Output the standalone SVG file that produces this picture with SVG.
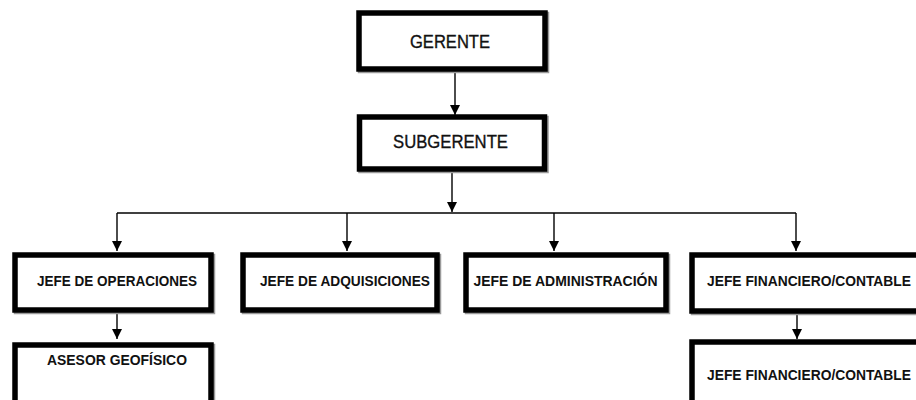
<svg xmlns="http://www.w3.org/2000/svg" width="916" height="400" viewBox="0 0 916 400">
<defs>
<marker id="arr" markerUnits="userSpaceOnUse" markerWidth="10" markerHeight="12" refX="10" refY="5" orient="auto">
<path d="M0,0 L10,5 L0,10 Z" fill="#000"/>
</marker>
<style>
.box{fill:#fff;stroke:#000;stroke-width:5.5}
.sh{fill:none;stroke:#9a9a9a;stroke-width:5.5}
.t{font-family:"Liberation Sans",Arial,sans-serif;fill:#111}
.big{font-size:18px;stroke:#111;stroke-width:0.35}
.sm{font-size:15px;font-weight:bold}
.fin{font-size:14px}
.con{fill:none;stroke:#000;stroke-width:1.4}
</style>
</defs>
<rect width="916" height="400" fill="#fff"/>
<g id="connectors">
<line class="con" x1="455" y1="72" x2="455" y2="115" marker-end="url(#arr)"/>
<line class="con" x1="452" y1="172" x2="452" y2="212" marker-end="url(#arr)"/>
<line class="con" x1="117" y1="213" x2="796" y2="213"/>
<line class="con" x1="117" y1="213" x2="117" y2="251" marker-end="url(#arr)"/>
<line class="con" x1="347" y1="213" x2="347" y2="251" marker-end="url(#arr)"/>
<line class="con" x1="554" y1="213" x2="554" y2="251" marker-end="url(#arr)"/>
<line class="con" x1="796" y1="213" x2="796" y2="251" marker-end="url(#arr)"/>
<line class="con" x1="117" y1="313" x2="117" y2="339" marker-end="url(#arr)"/>
<line class="con" x1="797" y1="314" x2="797" y2="339" marker-end="url(#arr)"/>
</g>
<g id="gerente">
<rect class="sh" x="360.5" y="14.5" width="186" height="56"/>
<rect class="box" x="359" y="13" width="186" height="56"/>
<text class="t big" x="410" y="48" textLength="80" lengthAdjust="spacingAndGlyphs">GERENTE</text>
</g>
<g id="subgerente">
<rect class="sh" x="361" y="118.5" width="185" height="52"/>
<rect class="box" x="359.5" y="117" width="185" height="52"/>
<text class="t big" x="393" y="148" textLength="115" lengthAdjust="spacingAndGlyphs">SUBGERENTE</text>
</g>
<g id="jefe-operaciones">
<rect class="sh" x="16.5" y="256.5" width="196" height="55"/>
<rect class="box" x="15" y="255" width="196" height="55"/>
<text class="t sm" x="37" y="286" textLength="160" lengthAdjust="spacingAndGlyphs">JEFE DE OPERACIONES</text>
</g>
<g id="jefe-adquisiciones">
<rect class="sh" x="244.5" y="256.5" width="194" height="55"/>
<rect class="box" x="243" y="255" width="194" height="55"/>
<text class="t sm" x="260" y="286" textLength="170" lengthAdjust="spacingAndGlyphs">JEFE DE ADQUISICIONES</text>
</g>
<g id="jefe-administracion">
<rect class="sh" x="467.5" y="256.5" width="200" height="55"/>
<rect class="box" x="466" y="255" width="200" height="55"/>
<text class="t sm" x="473.5" y="286" textLength="184" lengthAdjust="spacingAndGlyphs">JEFE DE ADMINISTRACIÓN</text>
</g>
<g id="jefe-financiero">
<rect class="sh" x="693.5" y="256.5" width="240" height="56"/>
<rect class="box" x="692" y="255" width="240" height="56"/>
<text class="t sm fin" x="707" y="286" textLength="204" lengthAdjust="spacingAndGlyphs">JEFE FINANCIERO/CONTABLE</text>
</g>
<g id="asesor-geofisico">
<rect class="sh" x="16.5" y="346.5" width="196" height="70"/>
<rect class="box" x="15" y="345" width="196" height="70"/>
<text class="t sm" x="47" y="365" textLength="140" lengthAdjust="spacingAndGlyphs">ASESOR GEOFÍSICO</text>
</g>
<g id="jefe-financiero-2">
<rect class="sh" x="693.5" y="343.5" width="240" height="70"/>
<rect class="box" x="692" y="342" width="240" height="70"/>
<text class="t sm fin" x="707" y="380" textLength="204" lengthAdjust="spacingAndGlyphs">JEFE FINANCIERO/CONTABLE</text>
</g>
</svg>
